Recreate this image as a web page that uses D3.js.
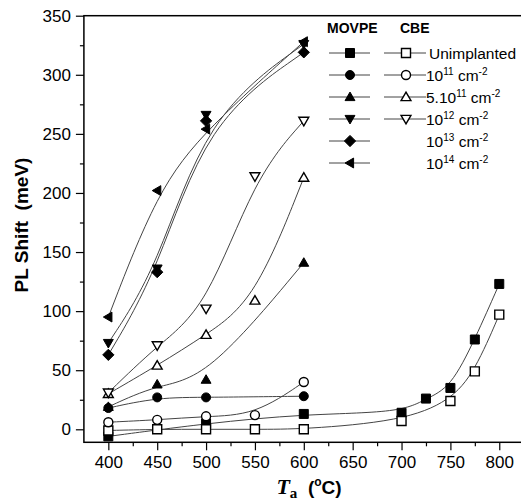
<!DOCTYPE html>
<html>
<head>
<meta charset="utf-8">
<script src="https://cdn.jsdelivr.net/npm/d3@7"></script>
<style>
  body { margin: 0; background: #fff; }
  svg { display: block; font-family: Arial, "Liberation Sans", sans-serif; }
</style>
</head>
<body>
<div id="chart"></div>
<script>
// annealing temperatures (deg C) and PL shifts (meV)
const tMovpe = [400, 450, 500, 600];
const tCbe = [400, 450, 500, 550, 600];
const tUnimpMovpe = [400, 500, 600, 700, 725, 750, 775, 800];
const tUnimpCbe = [400, 450, 500, 550, 600, 700, 750, 775, 800];

const unimpMovpe = [-6, 5, 13, 14, 26, 35, 76, 123];
const unimpCbe = [-1, 0, 0, 0, 0, 7, 24, 49, 97];
const d11Movpe = [18, 27, 27, 28];
const d11Cbe = [6, 8, 11, 12, 40];
const d511Movpe = [19, 38, 42, 141];
const d511Cbe = [30, 54, 80, 109, 213];
const d12Movpe = [73, 136, 266, 326];
const d12Cbe = [31, 71, 102, 214, 261];
const d13Movpe = [63, 133, 261, 319];
const d14Movpe = [95, 202, 254, 328];

const xTicks = [400, 450, 500, 550, 600, 650, 700, 750, 800];
const yTicks = [0, 50, 100, 150, 200, 250, 300, 350];

const series = [
    { x: tUnimpMovpe, y: unimpMovpe, shape: "square", open: false },
    { x: tUnimpCbe, y: unimpCbe, shape: "square", open: true },
    { x: tMovpe, y: d11Movpe, shape: "circle", open: false },
    { x: tCbe, y: d11Cbe, shape: "circle", open: true },
    { x: tMovpe, y: d511Movpe, shape: "up", open: false },
    { x: tCbe, y: d511Cbe, shape: "up", open: true },
    { x: tMovpe, y: d12Movpe, shape: "down", open: false },
    { x: tCbe, y: d12Cbe, shape: "down", open: true },
    { x: tMovpe, y: d13Movpe, shape: "diamond", open: false },
    { x: tMovpe, y: d14Movpe, shape: "left", open: false }
];

// legend rows: [filled shape, open shape or null, label parts]
const legendRows = [
    { filled: "square", open: "square", base: "Unimplanted", exp: null },
    { filled: "circle", open: "circle", base: "10", exp: "11" },
    { filled: "up", open: "up", base: "5.10", exp: "11" },
    { filled: "down", open: "down", base: "10", exp: "12" },
    { filled: "diamond", open: null, base: "10", exp: "13" },
    { filled: "left", open: null, base: "10", exp: "14" }
];

const width = 521;
const height = 503;

const x = d3.scaleLinear().domain([375, 825]).range([83.9, 523.7]);
const y = d3.scaleLinear().domain([-11, 350]).range([442.3, 15.7]);

const svg = d3.select("#chart")
    .append("svg")
    .attr("width", width)
    .attr("height", height);

// marker shapes centred on 0,0
function markerPath(shape, s) {
    const h = s / 2;
    switch (shape) {
        case "square":
            return `M${-h},${-h}H${h}V${h}H${-h}Z`;
        case "circle":
            return `M${h},0A${h},${h} 0 1,1 ${-h},0A${h},${h} 0 1,1 ${h},0Z`;
        case "up":
            return `M0,${-h * 1.1}L${h * 1.1},${h * 0.8}L${-h * 1.1},${h * 0.8}Z`;
        case "down":
            return `M0,${h * 1.1}L${h * 1.1},${-h * 0.8}L${-h * 1.1},${-h * 0.8}Z`;
        case "diamond":
            return `M0,${-h * 1.25}L${h * 1.25},0L0,${h * 1.25}L${-h * 1.25},0Z`;
        case "left":
            return `M${-h * 1.1},0L${h * 0.8},${-h * 1.1}L${h * 0.8},${h * 1.1}Z`;
    }
}

function drawMarker(g, shape, open, cx, cy) {
    g.append("path")
        .attr("d", markerPath(shape, 9))
        .attr("transform", `translate(${cx},${cy})`)
        .attr("fill", open ? "#fff" : "#000")
        .attr("stroke", "#000")
        .attr("stroke-width", open ? 1.4 : 1);
}

// axes (major + minor ticks, outward)
const xAxis = svg.append("g")
    .attr("transform", `translate(0,${y(-11)})`)
    .call(d3.axisBottom(x).tickValues(xTicks).tickSize(8).tickPadding(6).tickSizeOuter(0));
svg.append("g")
    .attr("transform", `translate(0,${y(-11)})`)
    .call(d3.axisBottom(x).tickValues(d3.range(425, 826, 50)).tickSize(4).tickFormat("").tickSizeOuter(0));

const yAxis = svg.append("g")
    .attr("transform", `translate(${x(375)},0)`)
    .call(d3.axisLeft(y).tickValues(yTicks).tickSize(8).tickPadding(5).tickSizeOuter(0));
svg.append("g")
    .attr("transform", `translate(${x(375)},0)`)
    .call(d3.axisLeft(y).tickValues(d3.range(25, 351, 50)).tickSize(4).tickFormat("").tickSizeOuter(0));

svg.selectAll(".domain").remove();
svg.selectAll(".tick line").attr("stroke", "#000").attr("stroke-width", 1.2);
svg.selectAll(".tick text")
    .attr("fill", "#000")
    .attr("font-size", "17px")
    .attr("font-family", "Arial, 'Liberation Sans', sans-serif");

// frame
svg.append("rect")
    .attr("x", x(375))
    .attr("y", y(350))
    .attr("width", x(825) - x(375))
    .attr("height", y(-11) - y(350))
    .attr("fill", "none")
    .attr("stroke", "#000")
    .attr("stroke-width", 1.5);

// curves (B-spline style)
const line = d3.line()
    .x(d => x(d[0]))
    .y(d => y(d[1]))
    .curve(d3.curveBasis);

const plot = svg.append("g");
series.forEach(s => {
    const pts = s.x.map((v, i) => [v, s.y[i]]);
    plot.append("path")
        .datum(pts)
        .attr("d", line)
        .attr("fill", "none")
        .attr("stroke", "#444")
        .attr("stroke-width", 1);
});
series.forEach(s => {
    s.x.forEach((v, i) => drawMarker(plot, s.shape, s.open, x(v), y(s.y[i])));
});

// legend
const legend = svg.append("g");
legend.append("text")
    .attr("x", 327)
    .attr("y", 33)
    .attr("font-size", "14px")
    .attr("font-weight", "bold")
    .text("MOVPE");
legend.append("text")
    .attr("x", 400)
    .attr("y", 33)
    .attr("font-size", "14px")
    .attr("font-weight", "bold")
    .text("CBE");

legendRows.forEach((r, i) => {
    const ly = 53 + i * 22;
    legend.append("line")
        .attr("x1", 329).attr("x2", 370)
        .attr("y1", ly).attr("y2", ly)
        .attr("stroke", "#444").attr("stroke-width", 1);
    drawMarker(legend, r.filled, false, 350, ly);
    if (r.open) {
        legend.append("line")
            .attr("x1", 384).attr("x2", 426)
            .attr("y1", ly).attr("y2", ly)
            .attr("stroke", "#444").attr("stroke-width", 1);
        drawMarker(legend, r.open, true, 406, ly);
    }
    const t = legend.append("text")
        .attr("x", r.exp ? 426 : 429)
        .attr("y", ly + 5.5)
        .attr("font-size", "15.5px")
        .text(r.base);
    if (r.exp) {
        t.append("tspan").attr("dy", -6).attr("font-size", "10px").text(r.exp);
        t.append("tspan").attr("dy", 6).text(" cm");
        t.append("tspan").attr("dy", -6).attr("font-size", "10px").text("-2");
    }
});

// axis titles
svg.append("text")
    .attr("transform", "translate(28,225) rotate(-90)")
    .attr("text-anchor", "middle")
    .attr("font-size", "19px")
    .attr("font-weight", "bold")
    .style("white-space", "pre")
    .text("PL Shift  (meV)");

const xt = svg.append("text")
    .attr("x", 309)
    .attr("y", 494)
    .attr("text-anchor", "middle")
    .attr("font-weight", "bold")
    .style("white-space", "pre");
xt.append("tspan")
    .attr("font-family", "'Liberation Serif', 'Times New Roman', serif")
    .attr("font-style", "italic")
    .attr("font-size", "22px")
    .text("T");
xt.append("tspan")
    .attr("font-family", "'Liberation Serif', 'Times New Roman', serif")
    .attr("font-size", "15px")
    .attr("dy", 4)
    .text("a");
xt.append("tspan")
    .attr("font-size", "19px")
    .attr("dy", -4)
    .text("  (");
xt.append("tspan")
    .attr("font-size", "12px")
    .attr("dy", -8)
    .text("o");
xt.append("tspan")
    .attr("font-size", "19px")
    .attr("dy", 8)
    .text("C)");
</script>
</body>
</html>
